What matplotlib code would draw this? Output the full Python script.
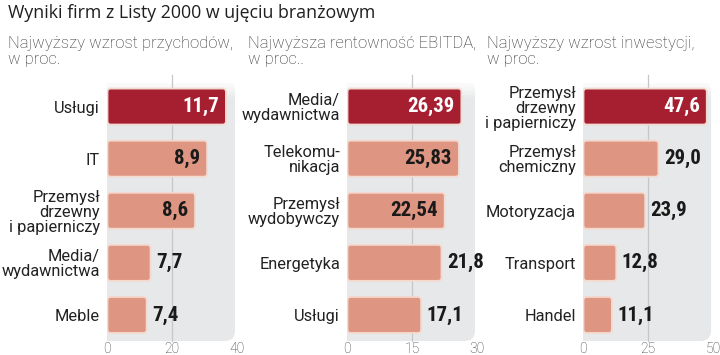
import matplotlib.pyplot as plt
from matplotlib.patches import FancyBboxPatch, Rectangle

title = "Wyniki firm z Listy 2000 w ujęciu branżowym"

przychody_tytul = "Najwyższy wzrost przychodów,\nw proc."
przychody_kat = ["Usługi", "IT", "Przemysł\ndrzewny\ni papierniczy", "Media/\nwydawnictwa", "Meble"]
przychody_val = [11.7, 8.9, 8.6, 7.7, 7.4]
# bar lengths as drawn in the source graphic (on its 0-40 axis they don't follow the labels)
przychody_bar = [36.6, 30.8, 27.1, 13.4, 12.2]
przychody_ticks = [0, 20, 40]

ebitda_tytul = "Najwyższa rentowność EBITDA,\nw proc.."
ebitda_kat = ["Media/\nwydawnictwa", "Telekomu-\nnikacja", "Przemysł\nwydobywczy", "Energetyka", "Usługi"]
ebitda_val = [26.39, 25.83, 22.54, 21.8, 17.1]
ebitda_ticks = [0, 15, 30]

inwest_tytul = "Najwyższy wzrost inwestycji,\nw proc."
inwest_kat = ["Przemysł\ndrzewny\ni papierniczy", "Przemysł\nchemiczny", "Motoryzacja", "Transport", "Handel"]
inwest_val = [47.6, 29.0, 23.9, 12.8, 11.1]
inwest_ticks = [0, 25, 50]

RED = "#a51f30"
SALMON = "#de9581"
EDGE = "#f4d9cf"
PANEL = "#e7e8e9"
GRID = "#c4c6c8"
W, H = 720, 355

NUM_FONT = ["Roboto Condensed", "Liberation Sans Narrow", "DejaVu Sans"]
TXT_FONT = ["Roboto", "DejaVu Sans"]

fig = plt.figure(figsize=(7.2, 3.55), dpi=100)
fig.patch.set_facecolor("white")

fig.text(8 / W, 1 - 13 / H, title, fontsize=12.8, color="#1f1f1f",
         family=["Open Sans", "DejaVu Sans"], weight="medium", va="center", ha="left")


def panel(left_px, sub_x_px, subtitle, cats, vals, lens, ticks, n_inside):
    fig.text(sub_x_px / W, 1 - 36 / H, subtitle, fontsize=12, color="#2e2e2e",
             family=TXT_FONT, weight="light", va="top", ha="left",
             linespacing=1.1)
    ax = fig.add_axes([left_px / W, 1 - 341 / H, 130 / W, 260.5 / H])
    ax.set_xlim(ticks[0], ticks[-1])
    ax.set_ylim(4.5, -0.5)
    ax.set_facecolor("none")
    for s in ax.spines.values():
        s.set_visible(False)

    # grey background, rounded at the bottom right, fading out at the top
    bg = FancyBboxPatch((0, 0), 0.985, 1, boxstyle="round,pad=0,rounding_size=0.08",
                        mutation_aspect=130 / 260.5, transform=ax.transAxes,
                        facecolor=PANEL, edgecolor="none", zorder=0)
    ax.add_patch(bg)
    ax.add_patch(Rectangle((0, 0), 0.5, 1, transform=ax.transAxes,
                           facecolor=PANEL, edgecolor="none", zorder=0))
    n = 14
    for i in range(n):
        ax.add_patch(Rectangle((0, 1 - (i + 1) * 0.005), 1, 0.005, transform=ax.transAxes,
                               facecolor="white", edgecolor="none",
                               alpha=1 - i / n, zorder=0.5))
    ax.axvline(ticks[1], ymin=0, ymax=1.02, color=GRID, lw=0.9, zorder=0.8, clip_on=False)

    colors = [RED] + [SALMON] * (len(vals) - 1)
    bars = ax.barh(range(len(lens)), lens, height=0.69, color=colors)
    for b, c in zip(bars, colors):
        x, y = b.get_x(), b.get_y()
        w, h = b.get_width(), b.get_height()
        b.set_visible(False)
        xr = (ticks[-1] - ticks[0]) / 130
        yr = 5 / 260.5
        ax.add_patch(FancyBboxPatch((x + 0.5 * xr, y), w - 0.5 * xr, h,
                                    boxstyle=f"round,pad=0,rounding_size={3 * xr}",
                                    mutation_aspect=yr / xr, facecolor=c,
                                    edgecolor=EDGE, lw=1.3, zorder=2))

    for i, (v, l) in enumerate(zip(vals, lens)):
        txt = f"{v}".replace(".", ",")
        if i < n_inside:
            ax.annotate(txt, (l, i), xytext=(-5, 0), textcoords="offset points",
                        ha="right", va="center", fontsize=15, weight="bold",
                        family=NUM_FONT, color="white" if i == 0 else "#1a1a1a", zorder=3)
        else:
            ax.annotate(txt, (l, i), xytext=(4, 0), textcoords="offset points",
                        ha="left", va="center", fontsize=15, weight="bold",
                        family=NUM_FONT, color="#1a1a1a", zorder=3)

    ax.set_yticks(range(len(cats)))
    ax.set_yticklabels(cats, fontsize=11.8, color="#222222", family=TXT_FONT, linespacing=1.0)
    ax.set_xticks(ticks)
    ax.set_xticklabels([str(t) for t in ticks], fontsize=10, color="#3a3a3a",
                       family=TXT_FONT, weight="light")
    ax.tick_params(axis="y", length=0, pad=5)
    ax.tick_params(axis="x", length=0, pad=1)
    return ax


panel(107, 8, przychody_tytul, przychody_kat, przychody_val, przychody_bar, przychody_ticks, 3)
panel(347, 248, ebitda_tytul, ebitda_kat, ebitda_val, ebitda_val, ebitda_ticks, 3)
panel(583, 487, inwest_tytul, inwest_kat, inwest_val, inwest_val, inwest_ticks, 1)

fig.savefig("out.png", dpi=100)
